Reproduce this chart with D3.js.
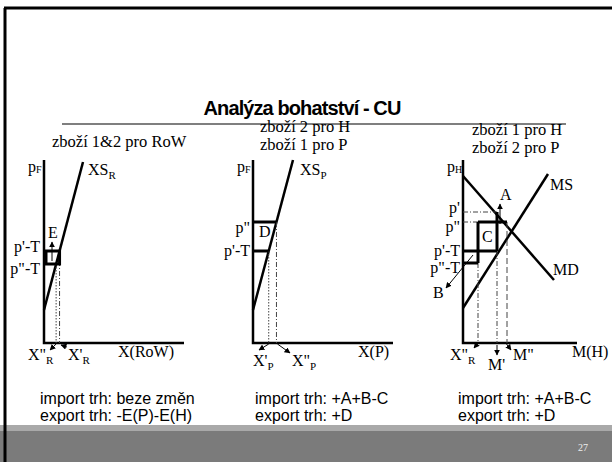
<!DOCTYPE html>
<html>
<head>
<meta charset="utf-8">
<script src="https://cdn.jsdelivr.net/npm/d3@7"></script>
<style>
  body { margin: 0; background: #fff; }
  svg { display: block; }
  .serif { font-family: "Liberation Serif", "Times New Roman", serif; font-size: 16px; }
  .sans { font-family: "Liberation Sans", Arial, sans-serif; }
</style>
</head>
<body>
<svg id="chart" width="612" height="462"></svg>
<script>
// ---- data (q, p) in diagram units ----
// panel 1: RoW
var rowXS = [[0, 3.3], [3.9, 18.1]];
var rowLevels = [9.2, 7.9];              // p'-T, p"-T
var rowLevelLabels = ["p'-T", 'p"-T'];
var rowQLabels = [['X"', 'R'], ["X'", 'R']];

// panel 2: P
var pXS = [[0, 3.3], [4.0, 18.3]];
var pLevels = [12.1, 9.2];               // p", p'-T
var pLevelLabels = ['p"', "p'-T"];
var pQLabels = [["X'", 'P'], ['X"', 'P']];

// panel 3: H
var hMD = [[0, 16.7], [9.1, 6.3]];
var hMS = [[0, 3.5], [8.5, 16.9]];
var hLevels = [13.1, 12.1, 9.2, 8.0];    // p', p", p'-T, p"-T
var hLevelLabels = ["p'", 'p"', "p'-T", 'p"-T'];
var hQ = [1.5, 3.4, 4.4];                // X"R, M', M"

var headers = [["zboží 1&2 pro RoW"], ["zboží 2 pro H", "zboží 1 pro P"], ["zboží 1 pro H", "zboží 2 pro P"]];
var axisNames = ["X(RoW)", "X(P)", "M(H)"];
var priceNames = [["p", "F"], ["p", "F"], ["p", "H"]];
var importText = ["import trh: beze změn", "import trh: +A+B-C", "import trh: +A+B-C"];
var exportText = ["export trh: -E(P)-E(H)", "export trh: +D", "export trh: +D"];
var title = "Analýza bohatství - CU";
var pageNo = "27";

var svg = d3.select("#chart");

// arrow head
svg.append("defs").append("marker")
    .attr("id", "ah")
    .attr("viewBox", "0 0 10 10")
    .attr("refX", 9).attr("refY", 5)
    .attr("markerWidth", 6).attr("markerHeight", 6)
    .attr("markerUnits", "userSpaceOnUse")
    .attr("orient", "auto")
  .append("path")
    .attr("d", "M0,0L10,5L0,10Z")
    .attr("fill", "#000");

// slide frame + footer band
svg.append("rect").attr("x", 0).attr("y", 425).attr("width", 612).attr("height", 37).attr("fill", "#7b7b7b");
svg.append("rect").attr("x", 0).attr("y", 425).attr("width", 612).attr("height", 6).attr("fill", "#a9a9a9");
svg.append("path").attr("d", "M4,8H612M5,8V462").attr("stroke", "#000").attr("stroke-width", 3).attr("fill", "none");
svg.append("text").attr("class", "serif").attr("x", 578).attr("y", 451)
    .style("font-size", "10px").attr("fill", "#eee").text(pageNo);

// title
svg.append("text").attr("class", "sans")
    .attr("x", 302).attr("y", 115)
    .attr("text-anchor", "middle")
    .style("font-size", "20px").style("font-weight", "bold").style("letter-spacing", "-0.9px")
    .text(title);
svg.append("line").attr("x1", 62).attr("x2", 566).attr("y1", 124).attr("y2", 124)
    .attr("stroke", "#000").attr("stroke-width", 1.2);

var y = d3.scaleLinear().domain([0, 18.3]).range([343, 160]);
var x1 = d3.scaleLinear().domain([0, 14]).range([44, 184]);
var x2 = d3.scaleLinear().domain([0, 14]).range([253, 393]);
var x3 = d3.scaleLinear().domain([0, 11.4]).range([463, 577]);
var xs = [x1, x2, x3];

function qOn(seg, p) {
  var a = seg[0], b = seg[1];
  return a[0] + (p - a[1]) / (b[1] - a[1]) * (b[0] - a[0]);
}

function label(px, py, main, sub, anchor, subDy) {
  var t = svg.append("text").attr("class", "serif")
      .attr("x", px).attr("y", py)
      .attr("text-anchor", anchor || "start")
      .text(main);
  if (sub) t.append("tspan").attr("dy", subDy == null ? 4 : subDy).style("font-size", "11px").text(sub);
  return t;
}

function seg(x, q0, p0, q1, p1, w, dash) {
  var l = svg.append("line")
      .attr("x1", x(q0)).attr("y1", y(p0))
      .attr("x2", x(q1)).attr("y2", y(p1))
      .attr("stroke", dash ? "#444" : "#000")
      .attr("stroke-width", w);
  if (dash) l.attr("stroke-dasharray", dash);
  return l;
}

function arrow(x, q0, p0, q1, p1) {
  seg(x, q0, p0, q1, p1, 1).attr("marker-end", "url(#ah)");
}

var DOT = "1.5,1.5", DASHDOT = "5,2,1,2";
var line = function(x) { return d3.line().x(function(d) { return x(d[0]); }).y(function(d) { return y(d[1]); }); };

// axes, headers, axis names, bottom text
var headerX = [52, 260, 472];
var headerY = [[147], [132, 150], [135, 153]];
xs.forEach(function(x, i) {
  svg.append("path")
      .attr("d", "M" + x(0) + "," + y(18.3) + "V" + y(0) + "H" + x.range()[1])
      .attr("fill", "none").attr("stroke", "#000").attr("stroke-width", 2.5);
  headers[i].forEach(function(h, j) {
    svg.append("text").attr("class", "serif").attr("x", headerX[i]).attr("y", headerY[i][j])
        .style("font-size", "16.5px").text(h);
  });
  label(x(0) - 16, y(17.1), priceNames[i][0], priceNames[i][1], "start", 1).select("tspan").style("font-size", "10px");
  label(x.range()[1] - (i == 2 ? 5 : 26 + (i == 0 ? 40 : 9)), 357, axisNames[i]);
  svg.append("text").attr("class", "sans").attr("x", [40, 255, 458][i]).attr("y", 404)
      .style("font-size", "16px").text(importText[i]);
  svg.append("text").attr("class", "sans").attr("x", [40, 255, 458][i]).attr("y", 421)
      .style("font-size", "16px").text(exportText[i]);
});

// ---- panel 1 ----
svg.append("path").attr("d", line(x1)(rowXS)).attr("stroke", "#000").attr("stroke-width", 2.5);
label(88, 175, "XS", "R");
var rq0 = qOn(rowXS, rowLevels[1]), rq1 = qOn(rowXS, rowLevels[0]);
seg(x1, rq0, rowLevels[1], rq0, 0, 1, DOT);
seg(x1, rq1, rowLevels[0], rq1, 0, 1, DASHDOT);
svg.append("rect")
    .attr("x", x1(0.2)).attr("y", y(rowLevels[0]))
    .attr("width", x1(rq1) - x1(0.2)).attr("height", y(rowLevels[1]) - y(rowLevels[0]))
    .attr("fill", "none").attr("stroke", "#000").attr("stroke-width", 3);
arrow(x1, 0.8, rowLevels[1] + 0.3, 0.8, rowLevels[0] + 0.9);
label(48, 238, "E");
label(40, 252, rowLevelLabels[0], null, "end");
label(40, 274, rowLevelLabels[1], null, "end");
arrow(x1, rq0, -0.1, 0.6, -0.7);
arrow(x1, 2.3, -0.4, 1.7, -0.2);
label(28, 360, rowQLabels[0][0], rowQLabels[0][1]);
label(68, 360, rowQLabels[1][0], rowQLabels[1][1]);

// ---- panel 2 ----
svg.append("path").attr("d", line(x2)(pXS)).attr("stroke", "#000").attr("stroke-width", 2.5);
label(300, 175, "XS", "P");
var pq0 = qOn(pXS, pLevels[0]), pq1 = qOn(pXS, pLevels[1]);
seg(x2, pq1, pLevels[1], pq1, 0, 1, DOT);
seg(x2, pq0, pLevels[0], pq0, 0, 1, DASHDOT);
seg(x2, 0, pLevels[0], pq0, pLevels[0], 3);
seg(x2, 0, pLevels[1], pq1, pLevels[1], 3);
label(259, 237, "D");
label(250, 233, pLevelLabels[0], null, "end");
label(250, 256, pLevelLabels[1], null, "end");
arrow(x2, pq1, -0.1, 0.6, -0.7);
arrow(x2, pq0 + 0.1, -0.1, 3.7, -1.0);
label(253, 366, pQLabels[0][0], pQLabels[0][1]);
label(292, 366, pQLabels[1][0], pQLabels[1][1]);

// ---- panel 3 ----
svg.append("path").attr("d", line(x3)(hMD)).attr("stroke", "#000").attr("stroke-width", 2.5);
svg.append("path").attr("d", line(x3)(hMS)).attr("stroke", "#000").attr("stroke-width", 2.5);
label(550, 190, "MS");
label(553, 275, "MD");
// guides
seg(x3, 0, hLevels[0], hQ[1], hLevels[0], 1, DASHDOT);
seg(x3, 0, hLevels[1], hQ[0], hLevels[1], 1, DASHDOT);
seg(x3, hQ[0], hLevels[3], hQ[0], 0, 1, DASHDOT);
seg(x3, hQ[1], hLevels[2], hQ[1], 0, 1, DASHDOT);
seg(x3, hQ[2], hLevels[1], hQ[2], 0, 1, "6,3");
// thick areas
seg(x3, hQ[0], hLevels[1], hQ[2], hLevels[1], 3);
seg(x3, hQ[0], hLevels[1], hQ[0], hLevels[3], 3);
seg(x3, hQ[1], hLevels[0], hQ[1], hLevels[2], 3);
seg(x3, 0, hLevels[2], hQ[1], hLevels[2], 3);
seg(x3, 0, hLevels[3], hQ[0], hLevels[3], 3);
arrow(x3, 3.7, hLevels[1] - 0.2, 3.7, hLevels[0] + 0.8);
label(500, 200, "A");
label(482, 242, "C");
arrow(x3, 1.0, hLevels[2] - 0.4, -1.7, 5.5);
label(433, 298, "B");
label(460, 213, hLevelLabels[0], null, "end");
label(460, 232, hLevelLabels[1], null, "end");
label(460, 256, hLevelLabels[2], null, "end");
label(460, 273, hLevelLabels[3], null, "end");
arrow(x3, hQ[0], 0, 1.1, -0.5);
arrow(x3, hQ[1], -0.2, hQ[1], -1.2);
arrow(x3, hQ[2] - 0.2, 0.1, hQ[2] + 0.4, -0.7);
label(450, 360, 'X"', "R");
label(488, 370, "M'");
label(513, 360, 'M"');
</script>
</body>
</html>
